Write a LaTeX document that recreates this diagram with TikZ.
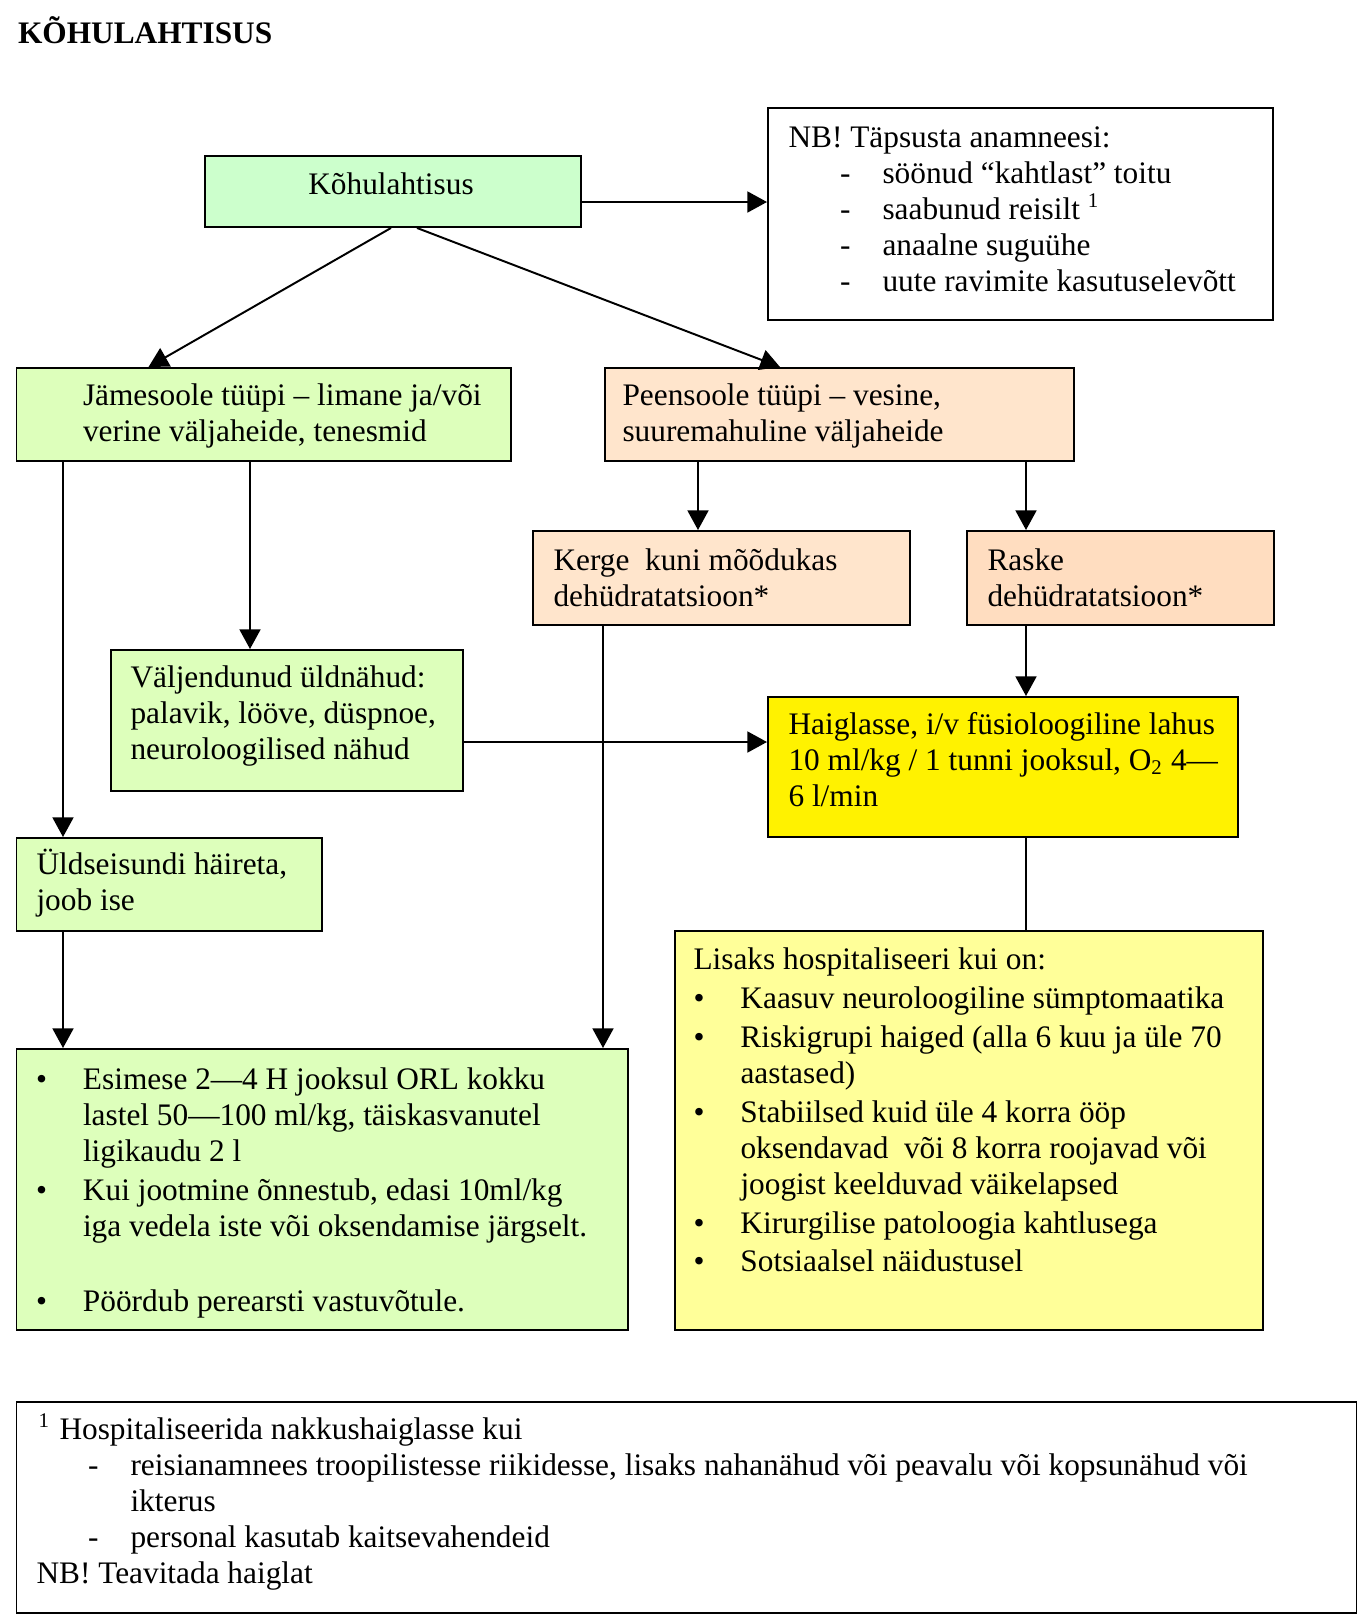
\documentclass[tikz,border=0pt]{standalone}
\usepackage{fontspec}
\setmainfont{Liberation Serif}
\usetikzlibrary{arrows.meta}
\newdimen\ux \ux=0.383pt
\definecolor{mintgreen}{HTML}{CCFFCC}
\definecolor{palegreen}{HTML}{DDFFBB}
\definecolor{peach}{HTML}{FFE5CC}
\definecolor{darkpeach}{HTML}{FFDDC0}
\definecolor{paleyellow}{HTML}{FFFF99}
\tikzstyle{arrow} = [line width=0.75pt, -{Triangle[length=7.5pt,width=8pt]}]
\tikzstyle{line} = [line width=0.75pt]
\tikzstyle{box} = [rectangle, draw=black, line width=0.75pt, inner sep=0pt, anchor=north west]
\tikzstyle{txt} = [anchor=base west, inner sep=0pt]
\newcommand\lines[1]{\begin{tabular}[t]{@{}l@{}}#1\end{tabular}}
\newcommand\dsh{\hspace*{51.5\ux}\makebox[42.5\ux][l]{-}}
\newcommand\bul{\makebox[47\ux][l]{\textbullet}}
\newcommand\ind{\hspace*{47\ux}}

\begin{document}
\begin{tikzpicture}[x=\ux, y=-\ux, font=\fontsize{12}{13.8}\selectfont]
\useasboundingbox (0,0) rectangle (1370,1615);
% Placement of boxes
\node (kohu) [box, fill=mintgreen, minimum width=376*\ux, minimum height=71*\ux] at (204,155) {};
\node (nb) [box, minimum width=505*\ux, minimum height=212*\ux] at (767,107) {};
\node (jam) [box, fill=palegreen, minimum width=494.5*\ux, minimum height=93*\ux] at (15.5,367) {};
\node (peen) [box, fill=peach, minimum width=469*\ux, minimum height=93*\ux] at (604,367) {};
\node (kerge) [box, fill=peach, minimum width=377*\ux, minimum height=94*\ux] at (532,530) {};
\node (raske) [box, fill=darkpeach, minimum width=307*\ux, minimum height=94*\ux] at (966,530) {};
\node (valj) [box, fill=palegreen, minimum width=352*\ux, minimum height=141*\ux] at (110,649) {};
\node (haig) [box, fill=yellow, minimum width=470*\ux, minimum height=140*\ux] at (767,696) {};
\node (uld) [box, fill=palegreen, minimum width=305.5*\ux, minimum height=93*\ux] at (15.5,837) {};
\node (lisa) [box, fill=paleyellow, minimum width=588*\ux, minimum height=399*\ux] at (674,930) {};
\node (esim) [box, fill=palegreen, minimum width=611.5*\ux, minimum height=281*\ux] at (15.5,1048) {};
\node (foot) [box, minimum width=1340*\ux, minimum height=211*\ux] at (15.5,1401) {};

% Texts
\node (title) [txt] at (17.5,43) {\textbf{KÕHULAHTISUS}};
\node (t-kohu) [txt, anchor=base] at (391,194) {Kõhulahtisus};
\node (t-nb) [txt] at (788,147) {\lines{NB! Täpsusta anamneesi:\\
  \dsh söönud “kahtlast” toitu\\
  \dsh saabunud reisilt \textsuperscript{1}\\
  \dsh anaalne suguühe\\
  \dsh uute ravimite kasutuselevõtt}};
\node (t-jam) [txt] at (82.5,405.5) {\lines{Jämesoole tüüpi – limane ja/või\\verine väljaheide, tenesmid}};
\node (t-peen) [txt] at (622,405.5) {\lines{Peensoole tüüpi – vesine,\\suuremahuline väljaheide}};
\node (t-kerge) [txt] at (553,570) {\lines{Kerge\ \ kuni mõõdukas\\dehüdratatsioon*}};
\node (t-raske) [txt] at (987,570) {\lines{Raske\\dehüdratatsioon*}};
\node (t-valj) [txt] at (130,687) {\lines{Väljendunud üldnähud:\\palavik, lööve, düspnoe,\\neuroloogilised nähud}};
\node (t-haig) [txt] at (788,734) {\lines{Haiglasse, i/v füsioloogiline lahus\\10 ml/kg / 1 tunni jooksul, O\textsubscript{2} 4—\\6 l/min}};
\node (t-uld) [txt] at (36,874) {\lines{Üldseisundi häireta,\\joob ise}};
\node (t-lisa) [txt] at (693,969) {\lines{Lisaks hospitaliseeri kui on:\\[1.2pt]
  \bul Kaasuv neuroloogiline sümptomaatika\\[1.2pt]
  \bul Riskigrupi haiged (alla 6 kuu ja üle 70\\
  \ind aastased)\\[1.2pt]
  \bul Stabiilsed kuid üle 4 korra ööp\\
  \ind oksendavad\ \ või 8 korra roojavad või\\
  \ind joogist keelduvad väikelapsed\\[1.2pt]
  \bul Kirurgilise patoloogia kahtlusega\\[0.6pt]
  \bul Sotsiaalsel näidustusel}};
\node (t-esim) [txt] at (35.5,1089.5) {\lines{\bul Esimese 2—4 H jooksul ORL kokku\\
  \ind lastel 50—100 ml/kg, täiskasvanutel\\
  \ind ligikaudu 2 l\\[1.2pt]
  \bul Kui jootmine õnnestub, edasi 10ml/kg\\
  \ind iga vedela iste või oksendamise järgselt.\\[1.2pt]
  \\
  \bul Pöördub perearsti vastuvõtule.}};
\node (t-foot) [txt] at (36,1439) {\lines{\hspace*{2\ux}\makebox[21\ux][l]{\textsuperscript{1}}Hospitaliseerida nakkushaiglasse kui\\
  \dsh reisianamnees troopilistesse riikidesse, lisaks nahanähud või peavalu või kopsunähud või\\
  \hspace*{94\ux}ikterus\\
  \dsh personal kasutab kaitsevahendeid\\
  NB! Teavitada haiglat}};

% Placement of edges
\draw [arrow] ([yshift=-47*\ux]kohu.north east) coordinate (c1) -- (c1 -| nb.west);
\draw [arrow] ([xshift=187*\ux]kohu.south west) -- ([xshift=133*\ux]jam.north west);
\draw [arrow] ([xshift=213*\ux]kohu.south west) -- ([xshift=176*\ux]peen.north west);
\draw [arrow] ([xshift=94*\ux]peen.south west) coordinate (c2) -- (c2 |- kerge.north);
\draw [arrow] ([xshift=422*\ux]peen.south west) coordinate (c3) -- (c3 |- raske.north);
\draw [arrow] ([xshift=234.5*\ux]jam.south west) coordinate (c4) -- (c4 |- valj.north);
\draw [arrow] ([xshift=47.5*\ux]jam.south west) coordinate (c5) -- (c5 |- uld.north);
\draw [arrow] ([xshift=60*\ux]raske.south west) coordinate (c6) -- (c6 |- haig.north);
\draw [arrow] ([yshift=-93*\ux]valj.north east) coordinate (c7) -- (c7 -| haig.west);
\draw [line] ([xshift=259*\ux]haig.south west) coordinate (c8) -- (c8 |- lisa.north);
\draw [arrow] ([xshift=47.5*\ux]uld.south west) coordinate (c9) -- (c9 |- esim.north);
\draw [arrow] ([xshift=71*\ux]kerge.south west) coordinate (c10) -- (c10 |- esim.north);

\end{tikzpicture}
\end{document}
